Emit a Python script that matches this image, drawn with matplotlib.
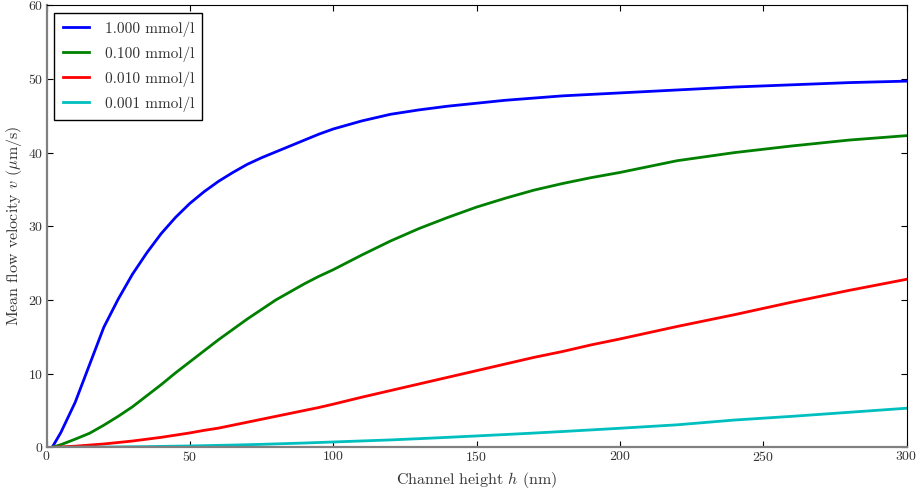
import numpy as np
import matplotlib
matplotlib.use('Agg')
import matplotlib.pyplot as plt

# channel height (nm) and mean flow velocity (um/s)
h = [2, 5, 10, 15, 20, 25, 30, 35, 40, 45, 50, 55, 60, 65, 70, 75, 80, 85,
     90, 95, 100, 110, 120, 130, 140, 150, 160, 170, 180, 190, 200,
     220, 240, 260, 280, 300]

v_1000 = [0.0, 2.0, 6.1, 11.2, 16.3, 20.1, 23.5, 26.4, 29.0, 31.2, 33.1,
          34.7, 36.1, 37.3, 38.4, 39.3, 40.1, 40.9, 41.7, 42.5, 43.2,
          44.3, 45.2, 45.8, 46.3, 46.7, 47.1, 47.4, 47.7, 47.9, 48.1,
          48.5, 48.9, 49.2, 49.5, 49.7]
v_0100 = [0.0, 0.35, 1.1, 1.9, 3.0, 4.2, 5.5, 7.0, 8.5, 10.1, 11.6,
          13.1, 14.6, 16.0, 17.4, 18.7, 20.0, 21.1, 22.2, 23.2, 24.1,
          26.1, 28.0, 29.7, 31.2, 32.6, 33.8, 34.9, 35.8, 36.6, 37.3,
          38.9, 40.0, 40.9, 41.7, 42.3]
v_0010 = [0.0, 0.05, 0.15, 0.3, 0.45, 0.65, 0.85, 1.1, 1.35, 1.65, 1.95,
          2.3, 2.6, 3.0, 3.4, 3.8, 4.2, 4.6, 5.0, 5.4, 5.85,
          6.8, 7.7, 8.6, 9.5, 10.4, 11.3, 12.2, 13.0, 13.9, 14.7,
          16.4, 18.0, 19.7, 21.3, 22.8]
v_0001 = [0.0, 0.0, 0.01, 0.02, 0.03, 0.05, 0.07, 0.09, 0.12, 0.15, 0.18,
          0.22, 0.26, 0.3, 0.35, 0.4, 0.46, 0.52, 0.58, 0.65, 0.72,
          0.86, 1.0, 1.17, 1.35, 1.54, 1.73, 1.93, 2.14, 2.36, 2.58,
          3.05, 3.7, 4.2, 4.75, 5.3]

labels = ['1.000 mmol/l', '0.100 mmol/l', '0.010 mmol/l', '0.001 mmol/l']
colors = ['b', 'g', 'r', 'c']

plt.rcParams['font.family'] = 'serif'
plt.rcParams['font.serif'] = ['cmr10']
plt.rcParams['mathtext.fontset'] = 'cm'
plt.rcParams['axes.formatter.use_mathtext'] = True
plt.rcParams['axes.unicode_minus'] = False

fig = plt.figure(figsize=(9.19, 4.95), dpi=100)
ax = fig.add_axes([0.0506, 0.0964, 0.9358, 0.893])

for vals, lab, col in zip([v_1000, v_0100, v_0010, v_0001], labels, colors):
    ax.plot(h, vals, color=col, lw=2, label=lab)

ax.set_xlim(0, 300)
ax.set_ylim(0, 60)
ax.set_xticks([0, 50, 100, 150, 200, 250, 300])
ax.set_yticks([0, 10, 20, 30, 40, 50, 60])
ax.tick_params(direction='in', top=True, right=True, length=4,
               labelsize=10, labelcolor='#333333', pad=2)

for side in ['left', 'bottom']:
    ax.spines[side].set_color('gray')
    ax.spines[side].set_linewidth(1.6)

ax.set_xlabel('Channel height $h$ (nm)', fontsize=11.5, color='#333333',
              labelpad=4)
ax.set_ylabel(r'Mean flow velocity $v$ ($\mu$m/s)', fontsize=11.5,
              color='#333333', labelpad=3)

leg = ax.legend(loc='upper left', fontsize=11, fancybox=False,
                edgecolor='black', framealpha=1, handlelength=1.75,
                handletextpad=1.0, labelspacing=0.62, borderpad=0.55,
                borderaxespad=0.5)
leg.get_frame().set_linewidth(1)
for t in leg.get_texts():
    t.set_color('#333333')

fig.savefig('out.png', dpi=100)
